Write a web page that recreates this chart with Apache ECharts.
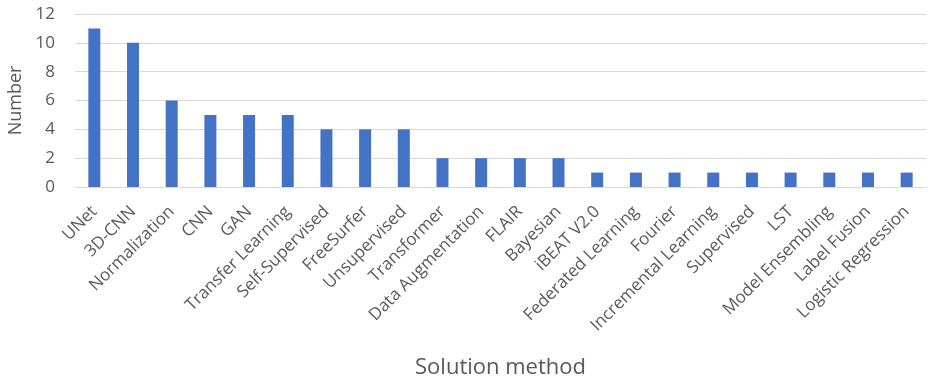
<!DOCTYPE html>
<html>
<head>
<meta charset="utf-8">
<script src="https://cdn.jsdelivr.net/npm/echarts@6/dist/echarts.min.js"></script>
<style>
	html, body { margin: 0; padding: 0; background: #fff; }
	#com-container { width: 935px; height: 382px; }
</style>
</head>
<body>
<div id="com-container"></div>
<script>
	// categories and counts
	var methods = ['UNet', '3D-CNN', 'Normalization', 'CNN', 'GAN', 'Transfer Learning', 'Self-Supervised',
		'FreeSurfer', 'Unsupervised', 'Transformer', 'Data Augmentation', 'FLAIR', 'Bayesian', 'iBEAT V2.0',
		'Federated Learning', 'Fourier', 'Incremental Learning', 'Supervised', 'LST', 'Model Ensembling',
		'Label Fusion', 'Logistic Regression'];
	var counts = [11, 10, 6, 5, 5, 5, 4, 4, 4, 2, 2, 2, 2, 1, 1, 1, 1, 1, 1, 1, 1, 1];

	var font = "'Open Sans', 'Liberation Sans', sans-serif";
	var myChart = echarts.init(document.getElementById('com-container'));
	var option = {
		animation: false,
		grid: {
			left: 75,
			right: 9,
			top: 14,
			bottom: 195,
			outerBoundsMode: 'none'
		},
		xAxis: {
			type: 'category',
			data: methods,
			name: 'Solution method',
			nameLocation: 'middle',
			nameGap: 170,
			nameTextStyle: { color: '#595959', fontSize: 22, fontFamily: font },
			axisLine: { show: true, lineStyle: { color: '#d9d9d9', width: 1 } },
			axisTick: { show: false },
			axisLabel: {
				interval: 0,
				rotate: 45,
				margin: 22,
				color: '#595959',
				fontSize: 17,
				fontFamily: font
			}
		},
		yAxis: {
			type: 'value',
			min: 0,
			max: 12,
			interval: 2,
			name: 'Number',
			nameLocation: 'middle',
			nameGap: 50,
			nameTextStyle: { color: '#595959', fontSize: 18, fontFamily: font },
			axisLine: { show: false },
			axisTick: { show: false },
			axisLabel: { color: '#595959', fontSize: 17, fontFamily: font, margin: 20 },
			splitLine: { lineStyle: { color: '#d9d9d9', width: 1 } }
		},
		series: [{
			type: 'bar',
			data: counts,
			barWidth: 12,
			itemStyle: { color: '#4472C4' }
		}]
	};
	myChart.setOption(option);
</script>
</body>
</html>
